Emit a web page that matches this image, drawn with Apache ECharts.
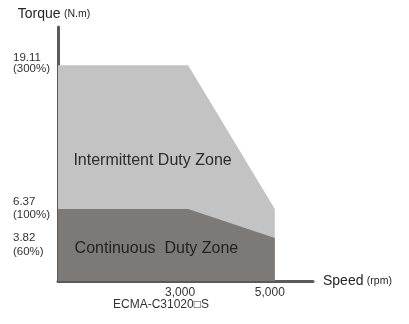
<!DOCTYPE html>
<html>
<head>
<meta charset="utf-8">
<style>
  html, body { margin: 0; padding: 0; background: #ffffff; }
  #chart { width: 409px; height: 324px; }
</style>
<script src="https://cdn.jsdelivr.net/npm/echarts@6/dist/echarts.min.js"></script>
</head>
<body>
<div id="chart"></div>
<script>
// Torque-speed envelope for ECMA-C31020□S servo motor
const speedTicks = [3000, 5000];
const speedTickLabels = ['3,000', '5,000'];
const torqueTicks = [3.82, 6.37, 19.11];
const torqueTickLabels = ['3.82\n(60%)', '6.37\n(100%)', '19.11\n(300%)'];

const speedPoints = [0, 3000, 5000];
const intermittentTorque = [19.11, 19.11, 6.37];
const continuousTorque = [6.37, 6.37, 3.82];

const modelName = 'ECMA-C31020□S';

const FONT = '"Liberation Sans", Arial, Helvetica, sans-serif';

function pairs(xs, ys) { return xs.map((x, i) => [x, ys[i]]); }

function nearestIndex(list, v) {
  let best = -1, dist = Infinity;
  list.forEach((t, i) => { const d = Math.abs(t - v); if (d < dist) { dist = d; best = i; } });
  return dist < 1e-6 ? best : -1;
}

// per-label rich styles nudge each two-line label around its tick
const yRichKeys = ['lo', 'mid', 'hi'];
const xRichKeys = ['s3', 's5'];

function torqueLabel(v) {
  const i = nearestIndex(torqueTicks, v);
  if (i < 0) return '';
  const lines = torqueTickLabels[i].split('\n');
  const k = yRichKeys[i];
  return '{' + k + '1|' + lines[0] + '}\n{' + k + '2|' + lines[1] + '}';
}

const torqueRich = {
  mid1: { fontFamily: FONT, fontSize: 11.5, color: '#333', lineHeight: 14 },
  mid2: { fontFamily: FONT, fontSize: 11.5, color: '#333', lineHeight: 14, padding: [0, 0, 3, 0] },
  hi1: { fontFamily: FONT, fontSize: 11.5, color: '#333', lineHeight: 14 },
  hi2: { fontFamily: FONT, fontSize: 11.5, color: '#333', lineHeight: 14, padding: [0, 0, 6, 0] }
};

const chart = echarts.init(document.getElementById('chart'));
chart.setOption({
  animation: false,
  backgroundColor: '#ffffff',
  grid: { left: 58, right: 96, top: 27, bottom: 43 },
  xAxis: {
    type: 'value',
    min: 0,
    max: 5880,
    name: '{a|Speed} {b|(rpm)}',
    nameLocation: 'end',
    nameGap: 10,
    nameTextStyle: {
      rich: {
        a: { fontFamily: FONT, fontSize: 14, color: '#262626' },
        b: { fontFamily: FONT, fontSize: 10.5, color: '#262626' }
      }
    },
    axisLine: { show: true, lineStyle: { color: '#5a5a5a', width: 3 } },
    axisTick: { show: false },
    splitLine: { show: false },
    axisLabel: {
      customValues: speedTicks,
      hideOverlap: false,
      margin: 6,
      fontFamily: FONT,
      fontSize: 12,
      color: '#333',
      formatter: function (v) {
        const i = nearestIndex(speedTicks, v);
        return i < 0 ? '' : '{' + xRichKeys[i] + '|' + speedTickLabels[i] + '}';
      },
      rich: {
        s3: { fontFamily: FONT, fontSize: 12, color: '#333', padding: [0, 16, 0, 0] },
        s5: { fontFamily: FONT, fontSize: 12, color: '#333', padding: [0, 10, 0, 0] }
      }
    }
  },
  yAxis: [
    {
      type: 'value',
      min: 0,
      max: 22.5,
      name: '{a|Torque} {b|(N.m)}',
      nameLocation: 'end',
      nameGap: 6,
      nameTextStyle: {
        padding: [0, 8, 0, 0],
        rich: {
          a: { fontFamily: FONT, fontSize: 14, color: '#262626' },
          b: { fontFamily: FONT, fontSize: 10.5, color: '#262626' }
        }
      },
      axisLine: { show: true, lineStyle: { color: '#5a5a5a', width: 3 } },
      axisTick: { show: false },
      splitLine: { show: false },
      axisLabel: {
        customValues: torqueTicks.slice(1),
        hideOverlap: false,
        align: 'left',
        margin: 45,
        formatter: torqueLabel,
        rich: torqueRich
      }
    },
    {
      // companion scale carrying the 60% label, set just below its level
      type: 'value',
      min: 0,
      max: 22.5,
      position: 'left',
      axisLine: { show: false },
      axisTick: { show: false },
      splitLine: { show: false },
      axisLabel: {
        customValues: torqueTicks.slice(0, 1),
        hideOverlap: false,
        align: 'left',
        margin: 45,
        fontFamily: FONT,
        fontSize: 11.5,
        lineHeight: 14,
        color: '#333',
        formatter: function (v) {
          const i = nearestIndex(torqueTicks, v);
          // leading empty line drops the two text lines half a row
          return i < 0 ? '' : ' \n' + torqueTickLabels[i];
        }
      }
    }
  ],
  series: [
    {
      name: 'Intermittent Duty Zone',
      type: 'line',
      data: pairs(speedPoints, intermittentTorque),
      symbol: 'none',
      lineStyle: { width: 0 },
      areaStyle: { color: '#c3c3c3', opacity: 1 },
      z: 1,
      markPoint: {
        symbol: 'circle',
        symbolSize: 0,
        data: [{ coord: [2180, 10.7], value: 'Intermittent Duty Zone' }],
        label: {
          show: true,
          position: 'inside',
          formatter: 'Intermittent Duty Zone',
          fontFamily: FONT,
          fontSize: 16,
          color: '#2b2b2b'
        }
      }
    },
    {
      name: 'Continuous Duty Zone',
      type: 'line',
      data: pairs(speedPoints, continuousTorque),
      symbol: 'none',
      lineStyle: { width: 0 },
      areaStyle: { color: '#7d7977', opacity: 1 },
      z: 2,
      markPoint: {
        symbol: 'circle',
        symbolSize: 0,
        data: [{ coord: [2270, 2.85], value: 'Continuous  Duty Zone' }],
        label: {
          show: true,
          position: 'inside',
          formatter: 'Continuous  Duty Zone',
          fontFamily: FONT,
          fontSize: 16,
          color: '#222'
        }
      }
    }
  ],
  graphic: [
    {
      type: 'text',
      left: 113,
      top: 299,
      style: {
        text: modelName,
        fontFamily: FONT,
        fontSize: 12,
        fill: '#333'
      }
    }
  ]
});
</script>
</body>
</html>
